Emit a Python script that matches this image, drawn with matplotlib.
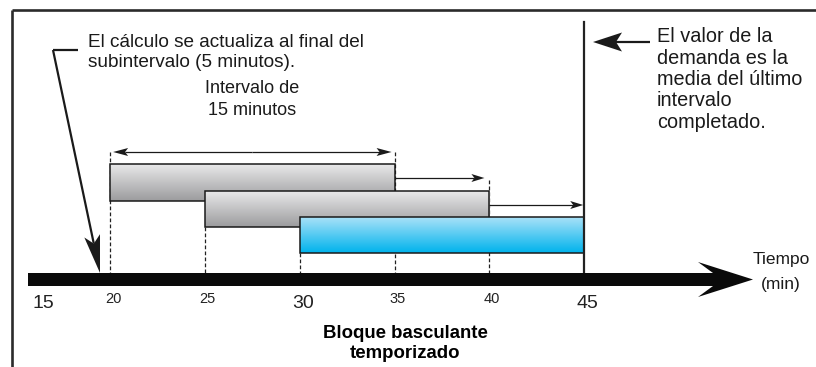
import numpy as np
import matplotlib

matplotlib.use("Agg")
import matplotlib.pyplot as plt
from matplotlib.patches import Polygon, Rectangle
from matplotlib.colors import LinearSegmentedColormap

plt.rcParams["font.family"] = ["Liberation Sans", "DejaVu Sans"]

# subinterval blocks (minutes)
block_start = [20, 25, 30]
block_end = [35, 40, 45]
block_top = ["#e8e8e9", "#e8e8e9", "#a8e1f8"]
block_bottom = ["#9c9c9e", "#9c9c9e", "#00b3ec"]
tick_values = [15, 20, 25, 30, 35, 40, 45]
major_ticks = [15, 30, 45]
now_minute = 45

left_note = ["El cálculo se actualiza al final del", "subintervalo (5 minutos)."]
right_note = ["El valor de la", "demanda es la", "media del último", "intervalo", "completado."]
interval_note = ["Intervalo de", "15 minutos"]
title_lines = ["Bloque basculante", "temporizado"]
axis_label = ["Tiempo", "(min)"]

W, H = 816, 367
XMIN, XMAX = 14.195, 57.22
PX = (XMAX - XMIN) / W  # minutes per pixel
INK = "#1a1a1a"


def mx(px):
    return XMIN + px * PX


def stealth(ax, tail, tip, length, half, notch, color=INK, lw=1.0, zorder=10):
    # tail/tip given as (minute, pixel-y); head built in pixel space
    tx, ty = (tip[0] - XMIN) / PX, tip[1]
    sx, sy = (tail[0] - XMIN) / PX, tail[1]
    d = np.array([tx - sx, ty - sy], dtype=float)
    d /= np.hypot(*d)
    n = np.array([-d[1], d[0]])
    t = np.array([tx, ty])
    base = t - d * length
    notch_pt = t - d * (length - notch)
    pts = [t, base + n * half, notch_pt, base - n * half]
    ax.plot([sx * PX + XMIN, notch_pt[0] * PX + XMIN], [sy, notch_pt[1]],
            color=color, lw=lw, solid_capstyle="butt", zorder=zorder)
    ax.add_patch(Polygon([(p[0] * PX + XMIN, p[1]) for p in pts], closed=True,
                         facecolor=color, edgecolor="none", zorder=zorder))


fig = plt.figure(figsize=(W / 100, H / 100), dpi=100)
ax = fig.add_axes([0, 0, 1, 1])
ax.axis("off")

# frame
ax.plot([mx(11.5), mx(816)], [10, 10], color="#2b2b2b", lw=1.9, solid_capstyle="butt")
ax.plot([mx(11.5), mx(11.5)], [10, 367], color="#2b2b2b", lw=1.9, solid_capstyle="butt")

# dashed guides
guide_top = {20: 152, 25: 227, 30: 253, 35: 152, 40: 180}
for m, top in guide_top.items():
    ax.plot([m, m], [top, 273], color="#222222", lw=0.9, ls=(0, (3, 1.8)), zorder=1)

# blocks with vertical gradient, later blocks drawn over earlier ones
rows = [(164, 201), (191, 227), (217, 253)]
for i, (s, e, c0, c1, (y0, y1)) in enumerate(zip(block_start, block_end, block_top, block_bottom, rows)):
    cmap = LinearSegmentedColormap.from_list("g", [c0, c1])
    grad = np.linspace(0, 1, 64).reshape(-1, 1)
    ax.imshow(grad, cmap=cmap, extent=(s, e, y1, y0), origin="upper",
              aspect="auto", interpolation="bicubic", zorder=2 + 2 * i)
    ax.add_patch(Rectangle((s, y0), e - s, y1 - y0, fill=False,
                           edgecolor=INK, lw=1.1, zorder=3 + 2 * i))

# interval arrows
stealth(ax, (27.5, 152), (block_start[0] + 3 * PX, 152), 15, 4, 3, lw=0.9)
stealth(ax, (27.5, 152), (block_end[0] - 3 * PX, 152), 15, 4, 3, lw=0.9)
stealth(ax, (block_end[0], 178), (block_end[1] - 5 * PX, 178), 13, 4, 3, lw=0.9)
stealth(ax, (block_end[1], 205), (block_end[2] - 1 * PX, 205), 13, 4, 3, lw=0.9)

# "now" line
ax.plot([now_minute, now_minute], [22, 273], color="#222222", lw=1.6, zorder=9)

# time axis arrow
ax.add_patch(Polygon([(mx(28), 273), (mx(713), 273), (mx(698), 262), (mx(753), 279.5),
                      (mx(698), 297), (mx(713), 286), (mx(28), 286)],
                     closed=True, facecolor="#0a0a0a", edgecolor="none", zorder=11))

# callout arrows
ax.plot([mx(53), mx(78)], [50, 50], color=INK, lw=1.6, solid_capstyle="butt")
stealth(ax, (mx(53), 50), (mx(100), 273), 38, 8, 8, lw=1.6)
stealth(ax, (mx(650), 42), (mx(593), 42), 29, 9.5, 6, lw=1.6)

# texts
for i, line in enumerate(left_note):
    ax.text(mx(88), 47 + 20 * i, line, fontsize=13.7, ha="left", va="baseline", color=INK)
for i, line in enumerate(right_note):
    ax.text(mx(657), 42 + 21.5 * i, line, fontsize=14.3, ha="left", va="baseline", color=INK)
for i, line in enumerate(interval_note):
    ax.text((block_start[0] + block_end[0]) / 2, 93 + 22 * i, line, fontsize=13,
            ha="center", va="baseline", color=INK)
for i, line in enumerate(title_lines):
    ax.text(mx(405), 338 + 20 * i, line, fontsize=13.4, fontweight="bold",
            ha="center", va="baseline", color="#000000")
ax.text(mx(781), 264, axis_label[0], fontsize=12.5, ha="center", va="baseline", color=INK)
ax.text(mx(781), 289, axis_label[1], fontsize=12.5, ha="center", va="baseline", color=INK)

for v in tick_values:
    x = v + (1.5 if v == tick_values[0] else 0.15)
    if v in major_ticks:
        ax.text(x, 308, str(v), fontsize=14, ha="center", va="baseline", color="#222222")
    else:
        ax.text(x, 303, str(v), fontsize=10.5, ha="center", va="baseline", color="#222222")

ax.set_xlim(XMIN, XMAX)
ax.set_ylim(H, 0)
fig.savefig("out.png", dpi=100)
